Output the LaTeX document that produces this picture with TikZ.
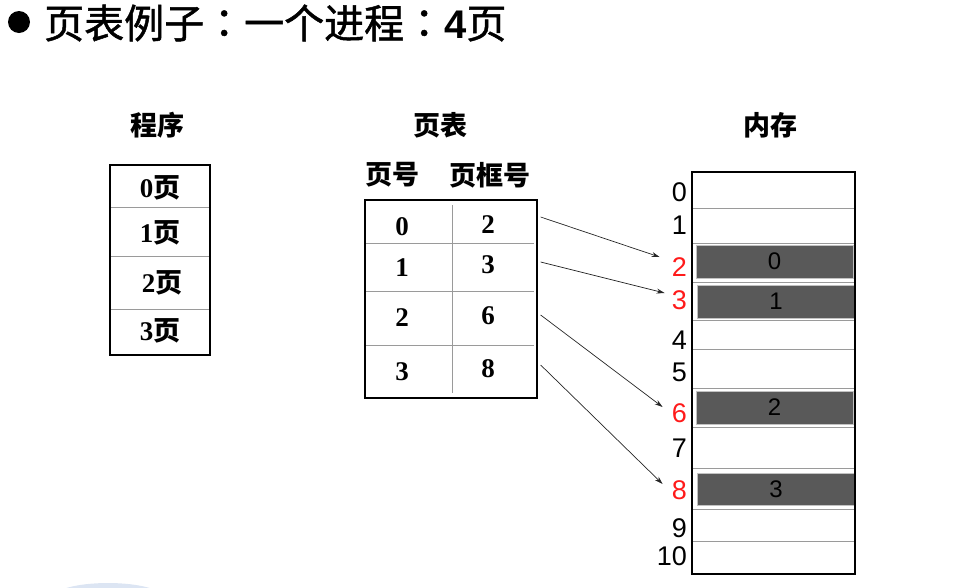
\documentclass[tikz,border=0pt]{standalone}
\usepackage{fontspec}
\setmainfont{Liberation Sans}
\newfontfamily\cjk{Noto Sans CJK SC}
\newfontfamily\cjkhead{Noto Sans CJK SC}[BoldFont={Noto Sans CJK SC}, BoldFeatures={FakeBold=1.2}]
\newfontfamily\cjktc{Noto Sans CJK TC}[BoldFont={Noto Sans CJK TC}, BoldFeatures={FakeBold=1.2}]
\newfontfamily\tms{Liberation Serif}
\usetikzlibrary{arrows.meta,calc}
\definecolor{blockgray}{HTML}{595959}
\definecolor{lightline}{HTML}{9A9A9A}
\definecolor{numred}{HTML}{FF1A1A}
\definecolor{paleblue}{HTML}{DCE5F3}
\tikzset{
  heading/.style={inner sep=0, font=\cjk\bfseries\fontsize{27}{30}\selectfont},
  tabnum/.style={inner sep=0, font=\tms\bfseries\fontsize{27}{30}\selectfont},
  pagelbl/.style={inner sep=0, font=\fontsize{27}{30}\selectfont},
  memlbl/.style={inner sep=0, anchor=east, font=\fontsize{27}{30}\selectfont},
  frame/.style={draw=black, line width=1.3pt},
  gridline/.style={draw=lightline, line width=0.9pt},
  block/.style={fill=blockgray, draw=lightline!60, line width=0.9pt, inner sep=0,
     font=\fontsize{24}{26}\selectfont},
  mapto/.style={draw=black!85, line width=0.7pt, -{Stealth[length=8pt,width=5pt]}}
}
\newcommand\tcolon{{\cjktc\bfseries ：}}
\begin{document}
\begin{tikzpicture}[x=1pt,y=-1pt]
\useasboundingbox (0,0) rectangle (959,587);
% decorative arc at bottom left
\fill[paleblue] (108,598) ellipse (56pt and 15pt);
% title
\node[circle, fill=black, minimum size=22pt, inner sep=0] (bullet) at (19,22) {};
\node[anchor=west, inner sep=0, font=\cjkhead\bfseries\fontsize{40}{42}\selectfont] (title) at (44,23)
  {页表例子\tcolon 一个进程\tcolon{\normalfont\bfseries 4}页};
% headings
\node[heading] (hprog) at (157,125) {程序};
\node[heading] (hpt) at (440,125) {页表};
\node[heading] (hpno) at (392,175) {页号};
\node[heading] (hfno) at (490,175) {页框号};
\node[heading] (hmem) at (770,125) {内存};
% program box
\draw[gridline] (110,207) -- (210,207);
\draw[gridline] (110,256) -- (210,256);
\draw[gridline] (110,309) -- (210,309);
\node[frame, minimum width=100pt, minimum height=190pt, inner sep=0] (prog) at (160,260) {};
\node[pagelbl] (p0) at (160,188) {{\tms\bfseries 0}{\cjk\bfseries 页}};
\node[pagelbl] (p1) at (160,233) {{\tms\bfseries 1}{\cjk\bfseries 页}};
\node[pagelbl] (p2) at (162,283) {{\tms\bfseries 2}{\cjk\bfseries 页}};
\node[pagelbl] (p3) at (160,331) {{\tms\bfseries 3}{\cjk\bfseries 页}};
% page table
\draw[gridline] (366,243) -- (534,243);
\draw[gridline] (366,291) -- (534,291);
\draw[gridline] (366,345) -- (534,345);
\draw[gridline] (452,205) -- (452,393);
\node[frame, minimum width=172pt, minimum height=198pt, inner sep=0] (pt) at (451,299) {};
\node[tabnum] (n0) at (402,227) {0};
\node[tabnum] (n1) at (402,268) {1};
\node[tabnum] (n2) at (402,318) {2};
\node[tabnum] (n3) at (402,372) {3};
\node[tabnum] (f0) at (488,225) {2};
\node[tabnum] (f1) at (488,265) {3};
\node[tabnum] (f2) at (488,316) {6};
\node[tabnum] (f3) at (488,369) {8};
% memory
\foreach \yy in {208,243,282,320,349,388,427,468,509,541}
  \draw[gridline] (692,\yy) -- (855,\yy);
\node[block, minimum width=157pt, minimum height=33pt] (g0) at (774.5,261.5) {0};
\node[block, minimum width=158pt, minimum height=33pt] (g1) at (776,301.5) {1};
\node[block, minimum width=157pt, minimum height=33pt] (g2) at (774.5,407.5) {2};
\node[block, minimum width=158pt, minimum height=32pt] (g3) at (776,489) {3};
\node[frame, minimum width=163pt, minimum height=402pt, inner sep=0] (mem) at (773.5,373) {};
\node[memlbl] (m0) at (687,192) {0};
\node[memlbl] (m1) at (687,225) {1};
\node[memlbl, text=numred] (m2) at (687,267) {2};
\node[memlbl, text=numred] (m3) at (687,300) {3};
\node[memlbl] (m4) at (687,340) {4};
\node[memlbl] (m5) at (687,372) {5};
\node[memlbl, text=numred] (m6) at (687,413) {6};
\node[memlbl] (m7) at (687,448) {7};
\node[memlbl, text=numred] (m8) at (687,490) {8};
\node[memlbl] (m9) at (687,528) {9};
\node[memlbl] (m10) at (687,556) {10};
% mappings
\draw[mapto] ($(pt.east |- f0)+(3,-8)$) -- ($(m2.west)+(-12,-10)$);
\draw[mapto] ($(pt.east |- f1)+(3,-3)$) -- ($(m3.west)+(-7,-7)$);
\draw[mapto] ($(pt.east |- f2)+(3,-1)$) -- ($(m6.west)+(-9,-6)$);
\draw[mapto] ($(pt.east |- f3)+(3,-4)$) -- ($(m8.west)+(-9,-6)$);
\end{tikzpicture}
\end{document}
